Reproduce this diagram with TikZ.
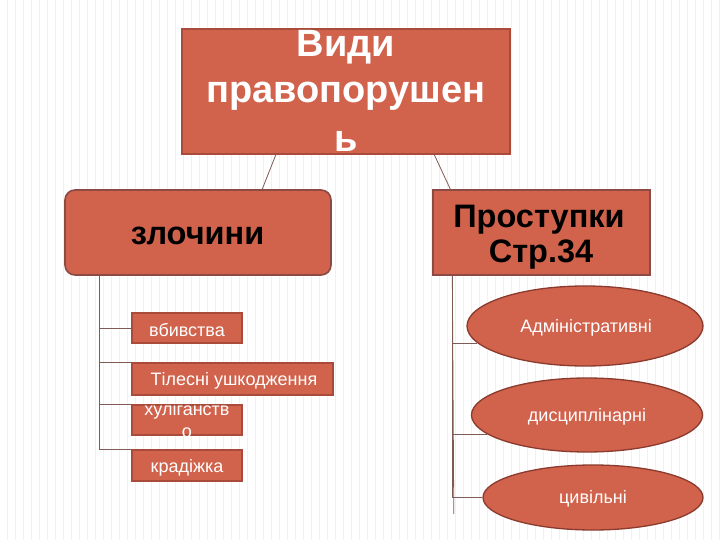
\documentclass[tikz,border=0pt]{standalone}
\usepackage{fontspec}
\setmainfont{Liberation Sans}
\usetikzlibrary{shapes.geometric,calc}
\definecolor{coral}{RGB}{209,98,76}
\definecolor{edgeA}{RGB}{170,74,58}
\definecolor{edgeB}{RGB}{140,74,68}
\definecolor{ovaledge}{RGB}{139,58,46}
\definecolor{linecol}{RGB}{128,90,84}
\definecolor{stripe}{RGB}{241,241,241}
\begin{document}
\begin{tikzpicture}[x=1pt,y=-1pt,
  topbox/.style={draw=edgeA,fill=coral,line width=1.6pt,inner sep=0pt},
  bigbox/.style={draw=edgeB,fill=coral,line width=1.6pt,inner sep=0pt},
  smallbox/.style={draw=edgeA,fill=coral,line width=1.2pt,inner sep=0pt},
  oval/.style={ellipse,draw=ovaledge,fill=coral,line width=1.3pt,inner sep=0pt},
  toptext/.style={text=white,font=\bfseries\fontsize{38}{42}\selectfont,anchor=base,inner sep=0pt},
  bigtext/.style={text=black,font=\bfseries\fontsize{32.5}{36}\selectfont,anchor=base,inner sep=0pt},
  smalltext/.style={text=white,font=\fontsize{18}{20}\selectfont,anchor=base,inner sep=0pt},
  conn/.style={draw=linecol,line width=0.8pt}]
\useasboundingbox (0,0) rectangle (720,540);
\fill[white] (0,0) rectangle (720,540);
\foreach \i in {0,...,90} \fill[stripe] ({8*\i-1},0) rectangle ({8*\i+0.3},540);

% top box
\node[topbox,minimum width=328,minimum height=125] (top) at (346,91.5) {};
\node[toptext] (t1) at (346,57) {Види};
\node[toptext] (t2) at (346,103) {правопорушен};
\node[toptext] (t3) at (346,152) {ь};

% level 2
\node[bigbox,rounded corners=10pt,minimum width=266,minimum height=85] (zl) at (198,232.5) {};
\node[bigtext] (zlt) at (197.5,244) {злочини};
\node[bigbox,minimum width=217,minimum height=85] (pr) at (541.5,232.5) {};
\node[bigtext] (prt1) at (539,227) {Проступки};
\node[bigtext] (prt2) at (541,262) {Стр.34};

% left children
\node[smallbox,minimum width=110,minimum height=30] (vb) at (187,328) {};
\node[smalltext] (vbt) at (187,336) {вбивства};
\node[smallbox,minimum width=201,minimum height=32] (tl) at (232.5,379) {};
\node[smalltext] (tlt) at (234,385) {Тілесні ушкодження};
\node[smallbox,minimum width=110,minimum height=30] (xu) at (187,420) {};
\begin{scope}
\clip (xu.south west) rectangle (xu.north east);
\node[smalltext] (xut1) at (187,415) {хуліганств};
\node[smalltext] (xut2) at (187,437) {о};
\end{scope}
\node[smallbox,minimum width=110,minimum height=31] (kr) at (187,465.5) {};
\node[smalltext] (krt) at (187,472) {крадіжка};

% right children
\node[oval,minimum width=236,minimum height=80] (adm) at (585,326) {};
\node[smalltext] (admt) at (586,332) {Адміністративні};
\node[oval,minimum width=231,minimum height=74] (dis) at (587,415) {};
\node[smalltext] (dist) at (587,421) {дисциплінарні};
\node[oval,minimum width=220,minimum height=65] (civ) at (593,497.5) {};
\node[smalltext] (civt) at (593,503) {цивільні};

% connectors
\draw[conn] ($(top.south west)!0.287!(top.south east)$) -- ($(zl.north west)!0.74!(zl.north east)$);
\draw[conn] ($(top.south west)!0.768!(top.south east)$) -- ($(pr.north west)!0.083!(pr.north east)$);

\coordinate (lv) at ($(zl.south west)!0.132!(zl.south east)$);
\draw[conn] (lv) |- (vb.west);
\draw[conn] (lv) |- (tl.north west);
\draw[conn] (lv) |- (xu.north west);
\draw[conn] (lv) |- (kr.north west);

\coordinate (rv) at ($(pr.south west)!0.092!(pr.south east)$);
\coordinate (rvb) at ($(rv)+(1.5,238)$);
\draw[conn] (rv) -- (rvb);
\draw[conn] (rv) |- (adm.189);
\draw[conn] (rv) |- (dis.191);
\draw[conn] (rv) |- (civ.west);
\end{tikzpicture}
\end{document}
